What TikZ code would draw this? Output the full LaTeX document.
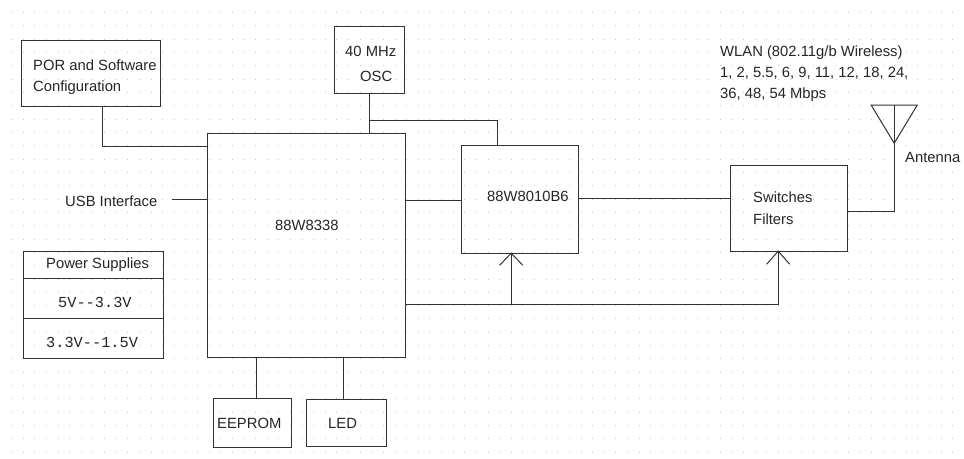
\documentclass[tikz,border=0pt]{standalone}
\usepackage{fontspec}
\setmainfont{Liberation Sans}
\newfontfamily\monoface{Liberation Mono}
\definecolor{ink}{HTML}{333333}
\definecolor{griddot}{HTML}{C8C8C8}
\tikzset{
  x=1pt,y=-1pt,
  blockbox/.style={draw=ink,line width=1pt,fill=none,inner sep=0pt,anchor=north west},
  lbl/.style={anchor=base west,inner sep=0pt,text=black!85,font=\fontsize{14.8}{17}\selectfont},
  monolbl/.style={lbl,font=\monoface\fontsize{15.3}{17}\selectfont},
  wire/.style={draw=ink,line width=1pt},
  wing/.style={draw=ink,line width=1pt},
}
\newcommand{\boxat}[6][]{\node[blockbox,#1,minimum width=#4pt,minimum height=#5pt] (#2) at (#3) {#6};}
\begin{document}
\begin{tikzpicture}
\useasboundingbox (0,0) rectangle (964,458);
\fill[white] (0,0) rectangle (964,458);
% dotted grid
\foreach \i in {1,...,82}{\foreach \j in {0,...,33}{
  \fill[griddot] ({11.62*\i-0.5},{12.4+13.33*\j-0.5}) rectangle ++(1,1);
}}
\begin{scope}[shift={(0.2,0.2)}]
% blocks
\boxat{por}{21,40}{139}{66}{}
\boxat{mainchip}{207,133}{198}{224}{}
\boxat{osc}{334,26}{70}{67}{}
\boxat{rf}{461,145}{117}{108}{}
\boxat{sw}{730,165}{117}{86}{}
\boxat{pwra}{23,251}{140}{27}{}
\boxat{pwrb}{23,278}{140}{40}{}
\boxat{pwrc}{23,318}{140}{40}{}
\boxat{eeprom}{213,398}{78}{49}{}
\boxat{led}{306,399}{80}{47}{}
% free ends and junctions
\coordinate (usbend) at (172,199);
\coordinate (apex) at (894,143);
\coordinate (anttop) at (894,105);
\coordinate (antl) at (871,105);
\coordinate (antr) at (917,105);
\coordinate (bus) at (405,304);
\coordinate (rfin) at (511,253);
\coordinate (swin) at (778,251);
\coordinate (oscj) at (369,120);
% connectors
\draw[wire] (por.south -| 102,0) -- (102,146) -- (mainchip.west |- 0,146);
\draw[wire] (usbend) -- (mainchip.west |- usbend);
\draw[wire] (osc.south -| oscj) -- (mainchip.north -| oscj);
\draw[wire] (oscj) -- (497,120) -- (rf.north -| 497,0);
\draw[wire] (mainchip.east |- 0,200) -- (rf.west |- 0,200);
\draw[wire] (rf.east |- 0,198) -- (sw.west |- 0,198);
\draw[wire] (sw.east |- 0,211) -- (894,211) -- (apex);
\draw[wire] (apex) -- (anttop);
\draw[wire] (antl) -- (antr) -- (apex) -- cycle;
\draw[wire] (bus) -- (swin |- bus) -- (swin);
\draw[wire] (rfin |- bus) -- (rfin);
\draw[wing] (499.5,265) -- (rfin) -- (522.5,265);
\draw[wing] (766.5,264) -- (swin) -- (789.5,264);
\draw[wire] (mainchip.south -| 256,0) -- (eeprom.north -| 256,0);
\draw[wire] (mainchip.south -| 343,0) -- (led.north -| 343,0);
\end{scope}
% labels
\node[lbl] (t1) at (33,70) {POR and Software};
\node[lbl] (t2) at (33,91) {Configuration};
\node[lbl] (t3) at (345,56) {40 MHz};
\node[lbl] (t4) at (360,81) {OSC};
\node[lbl] (t5) at (720,56) {WLAN (802.11g/b Wireless)};
\node[lbl] (t6) at (720,77) {1, 2, 5.5, 6, 9, 11, 12, 18, 24,};
\node[lbl] (t7) at (720,98) {36, 48, 54 Mbps};
\node[lbl] (t8) at (905,162) {Antenna};
\node[lbl] (t9) at (65,206) {USB Interface};
\node[lbl] (t10) at (275,230) {88W8338};
\node[lbl] (t11) at (487,201) {88W8010B6};
\node[lbl] (t12) at (753,202) {Switches};
\node[lbl] (t13) at (753,224) {Filters};
\node[lbl] (t14) at (46,268) {Power Supplies};
\node[monolbl] (t15) at (58,307) {5V--3.3V};
\node[monolbl] (t16) at (46,347) {3.3V--1.5V};
\node[lbl] (t17) at (217,428) {EEPROM};
\node[lbl] (t18) at (328,428) {LED};
\end{tikzpicture}
\end{document}
